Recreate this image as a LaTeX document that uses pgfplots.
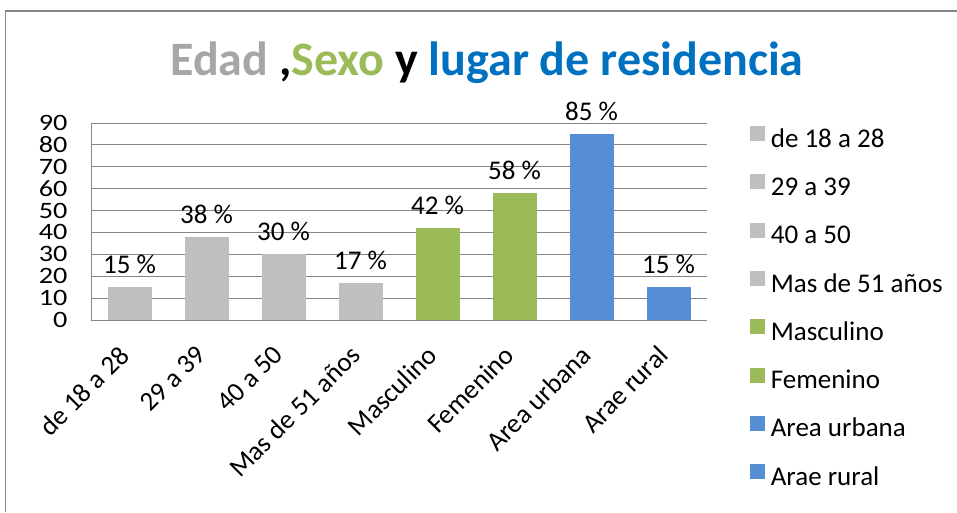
\documentclass[border=0pt]{standalone}
\usepackage{fontspec}
\setmainfont{Carlito}
\newfontfamily\tickfont{Carlito}[FakeStretch=1.2]
\usepackage{pgfplots}
\pgfplotsset{compat=1.18}
\definecolor{gbar}{HTML}{BFBFBF}
\definecolor{grbar}{HTML}{9BBB59}
\definecolor{bbar}{HTML}{558ED5}
\definecolor{tgray}{HTML}{A6A6A6}
\definecolor{tblue}{HTML}{0070C0}
\definecolor{axgray}{HTML}{868686}
\begin{document}
\begin{tikzpicture}
\path[use as bounding box] (0,0) rectangle (957pt,512pt);
\draw[color=axgray, line width=1.5pt] (5.5pt,0) -- (5.5pt,501pt) -- (957pt,501pt);
\node[font=\fontsize{48}{56}\selectfont\bfseries] at (487pt,449pt) {\textcolor{tgray}{Edad} ,\textcolor{grbar}{Sexo} y \textcolor{tblue}{lugar de residencia}};
\begin{axis}[
  at={(91pt,192pt)}, anchor=south west,
  scale only axis, width=616pt, height=197pt,
  xmin=-0.5, xmax=7.5, ymin=0, ymax=90,
  ytick={0,10,...,90},
  xtick={0,...,7},
  xticklabels={de 18 a 28, 29 a 39, 40 a 50, Mas de 51 años, Masculino, Femenino, Area urbana, Arae rural},
  x tick label style={xshift=-12pt, yshift=-21pt, rotate=45, anchor=north east, font=\fontsize{27}{32}\selectfont, inner sep=2pt},
  y tick label style={font=\tickfont\fontsize{23.5}{28}\selectfont, xshift=-20pt},
  /pgf/number format/assume math mode=true,
  axis x line*=bottom, axis y line*=left,
  axis line style={-, axgray, line width=1pt},
  ymajorgrids, grid style={axgray, line width=1pt},
  major tick length=0pt,
  ybar, bar width=44pt, bar shift=0pt,
  nodes near coords={\pgfmathprintnumber{\pgfplotspointmeta}~\%},
  nodes near coords style={font=\fontsize{27}{32}\selectfont, black, yshift=10pt},
  legend cell align=left,
  legend image code/.code={\draw[#1,draw=none] (0pt,0pt) rectangle (15pt,15pt); \path (20.5pt,0pt);},
  legend style={at={(axis description cs:1.07,0.985)}, anchor=north west, draw=none, fill=none, inner sep=0pt,
    font=\fontsize{27}{32}\selectfont, row sep=22.3pt,
    nodes={inner sep=0pt, text height=17pt, text depth=5pt}},
]
\addplot[fill=gbar, draw=none] coordinates {(0,15)};
\addplot[fill=gbar, draw=none] coordinates {(1,38)};
\addplot[fill=gbar, draw=none] coordinates {(2,30)};
\addplot[fill=gbar, draw=none] coordinates {(3,17)};
\addplot[fill=grbar, draw=none] coordinates {(4,42)};
\addplot[fill=grbar, draw=none] coordinates {(5,58)};
\addplot[fill=bbar, draw=none] coordinates {(6,85)};
\addplot[fill=bbar, draw=none] coordinates {(7,15)};
\legend{de 18 a 28, 29 a 39, 40 a 50, Mas de 51 años, Masculino, Femenino, Area urbana, Arae rural}
\end{axis}
\end{tikzpicture}
\end{document}
